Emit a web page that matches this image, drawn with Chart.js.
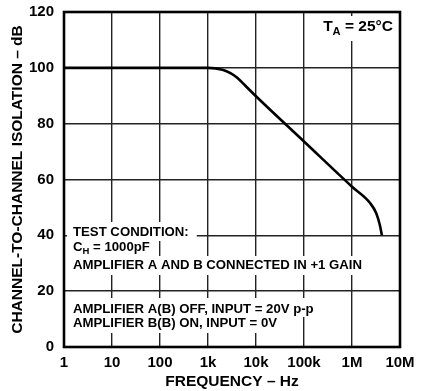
<!DOCTYPE html>
<html>
<head>
<meta charset="utf-8">
<script src="https://cdn.jsdelivr.net/npm/chart.js@4/dist/chart.umd.min.js"></script>
<style>
html,body{margin:0;padding:0;background:#fff;}
#wrap{width:433px;height:391px;position:relative;}
</style>
</head>
<body>
<div id="wrap"><canvas id="c" width="433" height="391"></canvas></div>
<script>
// Data
const frequencies = [1, 10, 100, 1000, 2000, 3000, 4000, 6000, 10000, 100000, 1000000, 2400000, 3200000, 3800000, 4200000];
const isolation   = [100, 100, 100, 100, 99.3, 98.0, 96.5, 93.6, 89.8, 73.6, 57.4, 51.5, 47.9, 43.7, 40];
const yTickValues = [0, 20, 40, 60, 80, 100, 120];
const xTickValues = [1, 10, 100, 1000, 10000, 100000, 1000000, 10000000];
const xTickLabels = ['1', '10', '100', '1k', '10k', '100k', '1M', '10M'];
const conditionLines1 = [
  [['TEST CONDITION:', '']],
  [['C', ''], ['H', 'sub'], [' = 1000pF', '']],
  [['AMPLIFIER A AND B CONNECTED IN +1 GAIN', '']]
];
const conditionLines2 = [
  [['AMPLIFIER A(B) OFF, INPUT = 20V p-p', '']],
  [['AMPLIFIER B(B) ON, INPUT = 0V', '']]
];
const tempLabel = [['T', ''], ['A', 'sub'], [' = 25°C', '']];

const FONT = '"Liberation Sans", Arial, Helvetica, sans-serif';

function drawRich(ctx, parts, x, y, size) {
  let cx = x;
  for (const [t, kind] of parts) {
    if (kind === 'sub') {
      ctx.font = 'bold ' + (size * 0.72).toFixed(1) + 'px ' + FONT;
      ctx.fillText(t, cx, y + size * 0.3);
    } else {
      ctx.font = 'bold ' + size + 'px ' + FONT;
      ctx.fillText(t, cx, y);
    }
    cx += ctx.measureText(t).width;
  }
  return cx - x;
}
function richWidth(ctx, parts, size) {
  let w = 0;
  for (const [t, kind] of parts) {
    ctx.font = 'bold ' + (kind === 'sub' ? (size * 0.72).toFixed(1) : size) + 'px ' + FONT;
    w += ctx.measureText(t).width;
  }
  return w;
}

const annotations = {
  id: 'annotations',
  beforeDatasetsDraw(chart) {
    const ctx = chart.ctx;
    const a = chart.chartArea;
    ctx.save();
    ctx.textBaseline = 'middle';
    ctx.textAlign = 'left';
    const size = 13.2;
    const tx = a.left + 9;
    const block = (lines, centers, tops, bottoms) => {
      lines.forEach((ln, i) => {
        const w = richWidth(ctx, ln, size);
        ctx.fillStyle = '#fff';
        ctx.fillRect(a.left + 3, tops[i], (tx - a.left - 3) + w + 8, bottoms[i] - tops[i]);
      });
      ctx.fillStyle = '#000';
      lines.forEach((ln, i) => drawRich(ctx, ln, tx, centers[i], size));
    };
    block(conditionLines1, [a.top + 220, a.top + 235.7, a.top + 253],
          [a.top + 210, a.top + 228, a.top + 244], [a.top + 229, a.top + 245, a.top + 263]);
    block(conditionLines2, [a.top + 297, a.top + 311.3],
          [a.top + 286, a.top + 303], [a.top + 305, a.top + 321]);
    // temperature label
    const ts = 15.5;
    const tw = richWidth(ctx, tempLabel, ts);
    ctx.fillStyle = '#fff';
    ctx.fillRect(a.right - 88, a.top + 4, 87, 25);
    ctx.fillStyle = '#000';
    drawRich(ctx, tempLabel, a.right - 7 - tw, a.top + 15, ts);
    ctx.restore();
  },
  afterDraw(chart) {
    const ctx = chart.ctx;
    const a = chart.chartArea;
    ctx.save();
    ctx.strokeStyle = '#000';
    ctx.lineWidth = 2.6;
    ctx.strokeRect(a.left, a.top, a.right - a.left, a.bottom - a.top);
    ctx.restore();
  }
};

new Chart(document.getElementById('c'), {
  type: 'line',
  data: {
    datasets: [{
      data: frequencies.map((f, i) => ({ x: f, y: isolation[i] })),
      borderColor: '#000',
      borderWidth: 2.6,
      pointRadius: 0,
      fill: false,
      cubicInterpolationMode: 'monotone'
    }]
  },
  options: {
    responsive: false,
    animation: false,
    devicePixelRatio: 1,
    layout: { padding: { left: 0, right: 33, top: 12, bottom: 0 } },
    plugins: { legend: { display: false }, tooltip: { enabled: false } },
    scales: {
      x: {
        type: 'logarithmic',
        min: 1, max: 10000000,
        afterFit(s) { s.height = 44; s.paddingLeft = 0; s.paddingRight = 0; },
        afterBuildTicks(s) { s.ticks = xTickValues.map(v => ({ value: v })); },
        ticks: {
          autoSkip: false, maxRotation: 0, padding: 7, color: '#000',
          font: { family: FONT, weight: 'bold', size: 15 },
          callback(v) { const i = xTickValues.indexOf(v); return i >= 0 ? xTickLabels[i] : ''; }
        },
        grid: { color: '#222', lineWidth: 1.4, drawTicks: false },
        border: { display: false },
        title: {
          display: true, text: 'FREQUENCY – Hz', color: '#000',
          font: { family: FONT, weight: 'bold', size: 15.5 }, padding: { top: 3, bottom: 0 }
        }
      },
      y: {
        type: 'linear', min: 0, max: 120,
        afterFit(s) { s.width = 64; s.paddingTop = 0; s.paddingBottom = 0; },
        afterBuildTicks(s) { s.ticks = yTickValues.map(v => ({ value: v })); },
        ticks: {
          padding: 10, color: '#000',
          font: { family: FONT, weight: 'bold', size: 15 }
        },
        grid: { color: '#222', lineWidth: 1.4, drawTicks: false },
        border: { display: false },
        title: {
          display: true, text: 'CHANNEL-TO-CHANNEL ISOLATION – dB', color: '#000',
          font: { family: FONT, weight: 'bold', size: 15.5 }, padding: { top: 8, bottom: 0 }
        }
      }
    }
  },
  plugins: [annotations]
});
</script>
</body>
</html>
